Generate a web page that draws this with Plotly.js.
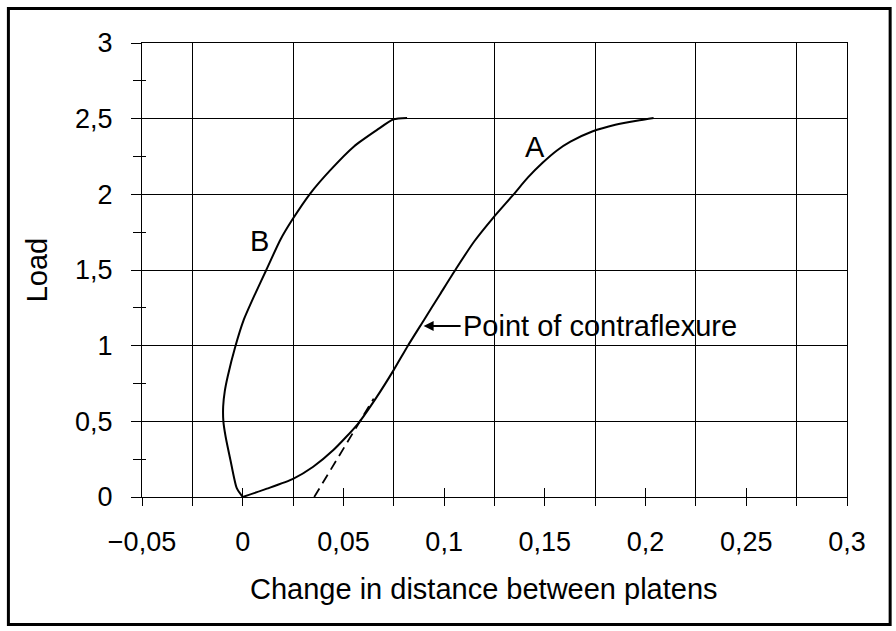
<!DOCTYPE html>
<html>
<head>
<meta charset="utf-8">
<script src="https://cdn.plot.ly/plotly-3.0.1.min.js"></script>
<style>html,body{margin:0;padding:0;background:#fff;}#chart{width:896px;height:631px;}</style>
</head>
<body>
<div id="chart"></div>
<script>
// Curve A (loading)
const curveA_x = [0, 0.012, 0.025, 0.035, 0.045, 0.057, 0.066, 0.075, 0.082, 0.09, 0.098, 0.106, 0.115, 0.124, 0.1345, 0.1415, 0.149, 0.156, 0.1627, 0.1735, 0.185, 0.197, 0.204];
const curveA_y = [0, 0.055, 0.12, 0.2, 0.31, 0.48, 0.65, 0.84, 1.0, 1.17, 1.34, 1.51, 1.69, 1.84, 2.0, 2.11, 2.21, 2.29, 2.348, 2.415, 2.46, 2.49, 2.505];
// Curve B
const curveB_x = [0, -0.003, -0.0061, -0.0085, -0.0096, -0.0097, -0.0089, -0.0074, -0.0037, 0.0005, 0.0063, 0.0117, 0.0187, 0.0245, 0.0336, 0.0435, 0.0551, 0.0667, 0.0749, 0.0816];
const curveB_y = [0, 0.06, 0.245, 0.4, 0.5, 0.6, 0.7, 0.8, 0.993, 1.17, 1.346, 1.5, 1.70, 1.83, 2.007, 2.16, 2.315, 2.426, 2.496, 2.505];
// Dashed tangent
const tangent_x = [0.0355, 0.065];
const tangent_y = [0, 0.65];

const xTickVals = [-0.05, 0, 0.05, 0.1, 0.15, 0.2, 0.25, 0.3];
const xTickText = ['\u22120,05', '0', '0,05', '0,1', '0,15', '0,2', '0,25', '0,3'];
const xGridVals = [-0.025, 0.025, 0.075, 0.125, 0.175, 0.225, 0.275];
const yTickVals = [0, 0.5, 1, 1.5, 2, 2.5, 3];
const yTickText = ['0', '0,5', '1', '1,5', '2', '2,5', '3'];
const yMinorVals = [0.25, 0.75, 1.25, 1.75, 2.25, 2.75];

const FONT = 'Liberation Sans, Arial, sans-serif';
const curveLine = {color: '#000', width: 2, shape: 'spline', smoothing: 0.6};

const traces = [
  {x: curveA_x, y: curveA_y, mode: 'lines', line: curveLine, xaxis: 'x', yaxis: 'y', hoverinfo: 'skip'},
  {x: curveB_x, y: curveB_y, mode: 'lines', line: curveLine, xaxis: 'x', yaxis: 'y2', hoverinfo: 'skip'},
  {x: tangent_x, y: tangent_y, mode: 'lines', line: {color: '#000', width: 1.8, dash: '10px,6px'}, xaxis: 'x2', yaxis: 'y', hoverinfo: 'skip'}
];

const layout = {
  width: 896, height: 631,
  margin: {l: 142, r: 49, t: 43, b: 134},
  paper_bgcolor: '#fff', plot_bgcolor: '#fff',
  showlegend: false,
  font: {family: FONT, size: 27, color: '#000'},
  xaxis: {
    range: [-0.05, 0.3], tickmode: 'array', tickvals: xTickVals, ticktext: xTickText,
    ticks: 'outside', ticklen: 8, tickwidth: 1, tickcolor: '#000',
    showgrid: false, zeroline: false, showline: true, mirror: true, linecolor: '#000', linewidth: 1,
    ticklabelstandoff: 13,
    tickfont: {family: FONT, size: 27, color: '#000'},
    minor: {tickmode: 'array', tickvals: xGridVals, showgrid: true, gridcolor: '#000', gridwidth: 1,
            ticks: 'outside', ticklen: 8, tickcolor: '#000', tickwidth: 1}
  },
  xaxis2: {
    overlaying: 'x', matches: 'x', anchor: 'y', side: 'bottom', range: [-0.05, 0.3],
    tickmode: 'array', tickvals: xTickVals, ticks: 'inside', ticklen: 9, tickwidth: 1, tickcolor: '#000',
    showticklabels: false, showgrid: false, zeroline: false, showline: false
  },
  yaxis: {
    range: [0, 3], tickmode: 'array', tickvals: yTickVals, ticktext: yTickText,
    ticks: 'outside', ticklen: 10, tickwidth: 1, tickcolor: '#000',
    showgrid: true, gridcolor: '#000', gridwidth: 1, zeroline: false,
    showline: true, mirror: true, linecolor: '#000', linewidth: 1,
    ticklabelstandoff: 13,
    tickfont: {family: FONT, size: 27, color: '#000'},
    minor: {tickmode: 'array', tickvals: yMinorVals, ticks: 'outside', ticklen: 8, tickcolor: '#000', tickwidth: 1, showgrid: false},
    title: {text: 'Load', font: {family: FONT, size: 29, color: '#000'}, standoff: 18}
  },
  yaxis2: {
    overlaying: 'y', matches: 'y', anchor: 'x', side: 'left', range: [0, 3],
    tickmode: 'array', tickvals: yMinorVals, ticks: 'inside', ticklen: 4, tickwidth: 1, tickcolor: '#000',
    showticklabels: false, showgrid: false, zeroline: false, showline: false
  },
  annotations: [
    {x: 0.4855, y: -0.2026, xref: 'paper', yref: 'paper', xanchor: 'center', yanchor: 'middle',
     text: 'Change in distance between platens', showarrow: false, font: {family: FONT, size: 29, color: '#000'}},
    {x: 0.1453, y: 2.31, xref: 'x', yref: 'y', text: 'A', showarrow: false, font: {family: FONT, size: 29, color: '#000'}},
    {x: 0.00825, y: 1.692, xref: 'x', yref: 'y', text: 'B', showarrow: false, font: {family: FONT, size: 29, color: '#000'}},
    {x: 0.0898, y: 1.13, xref: 'x', yref: 'y', text: 'Point of contraflexure', showarrow: true,
     ax: 37, ay: 0, xanchor: 'left', arrowhead: 2, arrowsize: 1, arrowwidth: 2, arrowcolor: '#000',
     font: {family: FONT, size: 29, color: '#000'}}
  ],
  shapes: [
    {type: 'rect', xref: 'paper', yref: 'paper', x0: -0.1895, x1: 1.0612, y0: -0.2808, y1: 1.0760,
     line: {color: '#000', width: 3}, fillcolor: 'rgba(0,0,0,0)', layer: 'below'}
  ]
};

Plotly.newPlot('chart', traces, layout, {staticPlot: true, displayModeBar: false});
</script>
</body>
</html>
